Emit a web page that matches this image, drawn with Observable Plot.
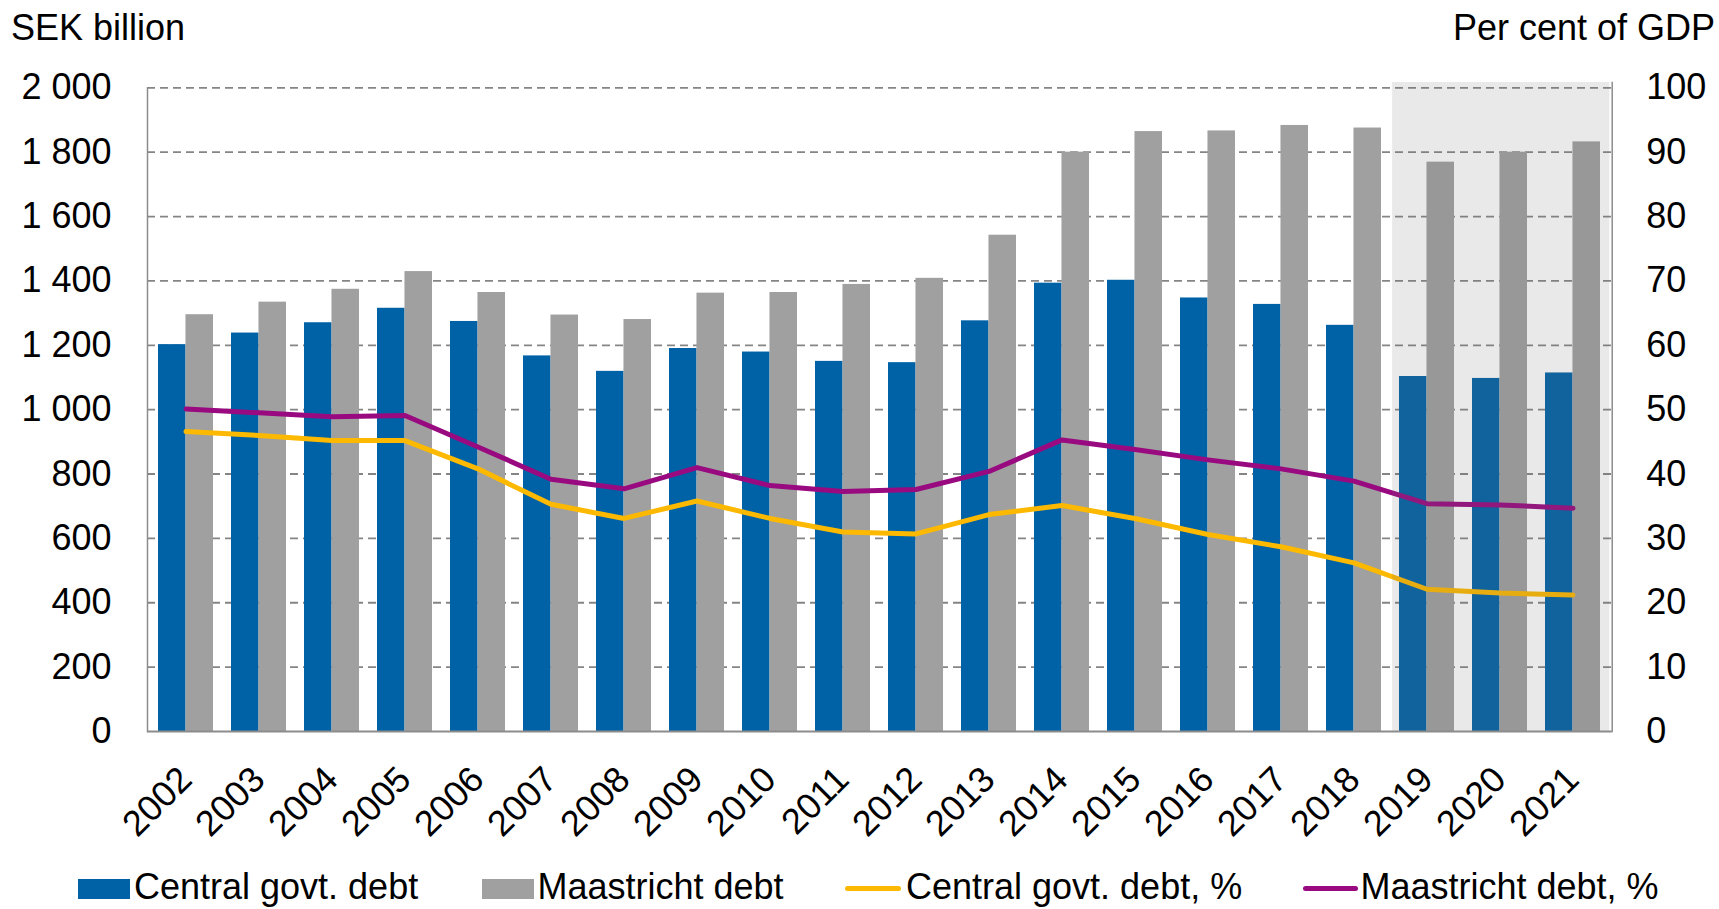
<!DOCTYPE html>
<html>
<head>
<meta charset="utf-8">
<script src="https://cdn.jsdelivr.net/npm/d3@7"></script>
<script src="https://cdn.jsdelivr.net/npm/@observablehq/plot@0.6"></script>
<style>
  body { margin: 0; background: #fff; font-family: "Liberation Sans", Arial, sans-serif; }
  #wrap { position: relative; width: 1719px; height: 909px; overflow: hidden; }
  #header { position: relative; height: 48px; }
  #legend { position: relative; height: 59px; }
  .lbl { position: absolute; font-size: 36px; line-height: 36px; color: #000; white-space: nowrap; }
  .sw { position: absolute; }
</style>
</head>
<body>
<div id="wrap">
  <div id="header">
    <span class="lbl" style="left:11px;top:9.5px">SEK billion</span>
    <span class="lbl" style="right:4px;top:9.5px">Per cent of GDP</span>
  </div>
  <div id="chart"></div>
  <div id="legend"></div>
</div>
<script>
// ---- data ----
const years = ["2002","2003","2004","2005","2006","2007","2008","2009","2010","2011",
               "2012","2013","2014","2015","2016","2017","2018","2019","2020","2021"];
const centralDebt = [1202, 1238, 1270, 1315, 1274, 1167, 1119, 1190, 1179, 1150,
                     1146, 1276, 1393, 1402, 1347, 1327, 1262, 1103, 1097, 1114];
const maastrichtDebt = [1295, 1334, 1374, 1429, 1364, 1294, 1280, 1362, 1364, 1389,
                        1408, 1542, 1800, 1864, 1866, 1883, 1875, 1769, 1800, 1832];
const centralPct = [46.6, 46.0, 45.2, 45.2, 40.8, 35.3, 33.1, 35.8, 33.1, 31.0,
                    30.7, 33.7, 35.1, 33.1, 30.6, 28.7, 26.2, 22.1, 21.5, 21.2];
const maastrichtPct = [50.1, 49.5, 48.9, 49.1, 44.2, 39.2, 37.7, 41.0, 38.2, 37.3,
                       37.6, 40.4, 45.3, 43.8, 42.2, 40.8, 38.9, 35.4, 35.2, 34.7];
const forecastYears = ["2019","2020","2021"];
const leftTicks = [0, 200, 400, 600, 800, 1000, 1200, 1400, 1600, 1800, 2000];
const rightTicks = [0, 10, 20, 30, 40, 50, 60, 70, 80, 90, 100];
const seriesNames = ["Central govt. debt", "Maastricht debt", "Central govt. debt, %", "Maastricht debt, %"];

// ---- styles ----
const BLUE = "#0062A6", GRAY = "#A0A0A0", YELLOW = "#FDB900", PURPLE = "#990A80";
const FONT = "'Liberation Sans', Arial, sans-serif";
const FS = 36;
const W = 1719, H = 802;
const mL = 147, mR = 107.3, mT = 39.3, mB = 119;
const pInner = 0.25, pOuter = 0.125;
const step = (W - mL - mR) / years.length;
const bw = step * (1 - pInner);
const half = bw / 2;
const gap = (step - bw) / 2;

const yMax = leftTicks[leftTicks.length - 1];
const ratio = yMax / rightTicks[rightTicks.length - 1];

const rows = years.map((y, i) => ({
  year: y, central: centralDebt[i], maastricht: maastrichtDebt[i],
  cPct: centralPct[i], mPct: maastrichtPct[i]
}));

// the forecast band is one rectangle centred on the middle forecast year
const midForecast = [forecastYears[Math.floor(forecastYears.length / 2)]];
const spread = step * Math.floor(forecastYears.length / 2) + gap;

const fmt = d3.formatLocale({decimal: ".", thousands: " ", grouping: [3], currency: ["", ""]}).format(",");

const chart = Plot.plot({
  width: W, height: H,
  marginLeft: mL, marginRight: mR, marginTop: mT, marginBottom: mB,
  x: {type: "band", domain: years, paddingInner: pInner, paddingOuter: pOuter, axis: null},
  y: {domain: [0, yMax], axis: null},
  style: {fontFamily: FONT, fontSize: FS + "px", color: "#000", background: "transparent", overflow: "visible"},
  marks: [
    Plot.ruleY(leftTicks.filter(d => d > 0), {stroke: "#858585", strokeWidth: 1.8, strokeDasharray: "8,5"}),
    Plot.barY(rows, {x: "year", y: "central", fill: BLUE, insetRight: half}),
    Plot.barY(rows, {x: "year", y: "maastricht", fill: GRAY, insetLeft: half}),
    Plot.line(rows, {x: "year", y: d => d.cPct * ratio, stroke: YELLOW, strokeWidth: 5}),
    Plot.line(rows, {x: "year", y: d => d.mPct * ratio, stroke: PURPLE, strokeWidth: 5}),
    Plot.barY(midForecast, {x: d => d, y1: 0, y2: yMax, fill: "rgb(110,110,110)", fillOpacity: 0.15,
      insetLeft: -spread + 2.5, insetRight: -spread, insetTop: -5.3}),
    Plot.ruleY([0], {stroke: "#8c8c8c", strokeWidth: 2}),
    Plot.frame({anchor: "left", stroke: "#8c8c8c", strokeWidth: 1.5}),
    Plot.frame({anchor: "right", stroke: "#8c8c8c", strokeWidth: 1.5, insetTop: -5.3}),
    Plot.axisY({ticks: leftTicks, tickFormat: fmt, tickSize: 0, tickPadding: 36, fontSize: FS}),
    Plot.axisY({anchor: "right", ticks: leftTicks, tickFormat: d => d / ratio, tickSize: 0, tickPadding: 34, fontSize: FS}),
    Plot.text(years, {x: d => d, frameAnchor: "bottom", rotate: -45, textAnchor: "end",
      lineAnchor: "bottom", dx: 8, dy: 50, fontSize: FS, fill: "#000"})
  ]
});
document.getElementById("chart").appendChild(chart);

// ---- legend ----
const legend = document.getElementById("legend");
const items = [
  {name: seriesNames[0], kind: "rect", color: BLUE, swLeft: 78, swWidth: 52, textLeft: 134},
  {name: seriesNames[1], kind: "rect", color: GRAY, swLeft: 481.6, swWidth: 52, textLeft: 537.5},
  {name: seriesNames[2], kind: "line", color: YELLOW, swLeft: 845, swWidth: 56, textLeft: 906},
  {name: seriesNames[3], kind: "line", color: PURPLE, swLeft: 1303, swWidth: 55, textLeft: 1360.5}
];
for (const it of items) {
  const sw = document.createElement("div");
  sw.className = "sw";
  sw.style.left = it.swLeft + "px";
  sw.style.width = it.swWidth + "px";
  sw.style.background = it.color;
  if (it.kind === "rect") { sw.style.top = "29px"; sw.style.height = "20px"; }
  else { sw.style.top = "35.5px"; sw.style.height = "5px"; sw.style.borderRadius = "2.5px"; }
  legend.appendChild(sw);
  const t = document.createElement("span");
  t.className = "lbl";
  t.style.left = it.textLeft + "px";
  t.style.top = "18.5px";
  t.textContent = it.name;
  legend.appendChild(t);
}
</script>
</body>
</html>
